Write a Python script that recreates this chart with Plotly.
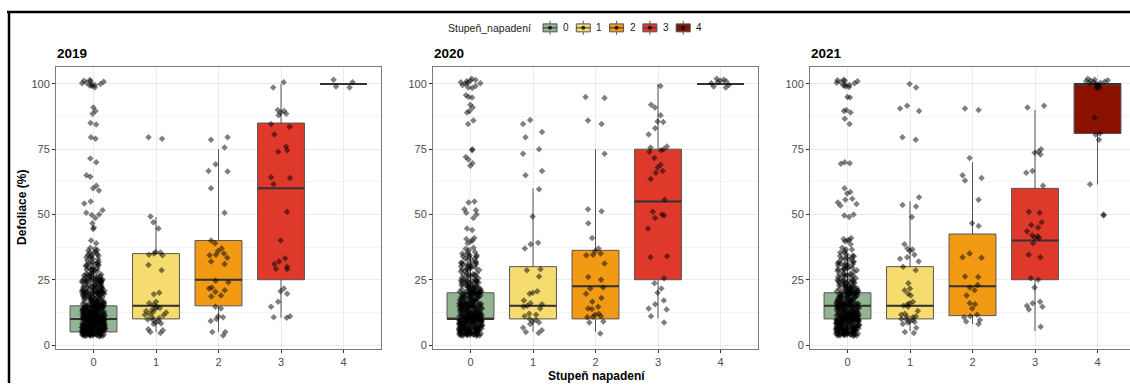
import plotly.graph_objects as go

FONT = "Liberation Sans, Arial, sans-serif"

years = ["2019", "2020", "2021"]
categories = ["0", "1", "2", "3", "4"]
box_colors = ["#93B493", "#F6DC6E", "#F29A13", "#DF392C", "#8A1000"]
legend_title = "Stupeň_napadení"

# ---- box statistics ----
q1_2019 = [5, 10, 15, 25, 100]
med_2019 = [10, 15, 25, 60, 100]
q3_2019 = [15, 35, 40, 85, 100]
low_2019 = [3.5, 5, 5, 10.4, 100]
up_2019 = [30, 49, 75, 100, 100]

q1_2020 = [10, 10, 10, 25, 100]
med_2020 = [10, 15, 22.5, 55, 100]
q3_2020 = [20, 30, 36.25, 75, 100]
low_2020 = [3.5, 5, 5, 10.2, 100]
up_2020 = [35, 60, 75, 100, 100]

q1_2021 = [10, 10, 11.25, 25, 81]
med_2021 = [15, 15, 22.5, 40, 100]
q3_2021 = [20, 30, 42.5, 60, 100]
low_2021 = [3.5, 5.3, 8, 5.3, 61.5]
up_2021 = [35, 55, 70, 90, 100]

# ---- observations (jittered points) ----
pts_2019_0 = [
    101.5, 101.2, 100.8, 100.4, 100.0, 99.6, 99.2, 98.6, 100.2, 99.8, 101.0, 99.4,
    91.0, 89.6, 88.6, 85.0, 84.4, 79.6, 79.0, 71.4, 70.0, 65.0, 64.4, 61.0, 60.0, 59.2,
    55.0, 54.2, 51.6, 50.6, 50.0, 49.8, 48.6, 46.6, 45.0, 44.4, 40.0, 39.0, 37.2, 36.2, 35.6,
    35.2, 34.8, 34.2, 33.6, 32.4, 31.8, 31.2, 30.6, 30.2, 29.6, 29.0, 28.4, 27.8, 27.2, 26.6,
    26.2, 25.8, 25.6, 25.4, 25.2, 25.0, 24.8, 24.6, 24.4, 26.0, 25.9, 25.1, 24.9, 26.4,
    23.8, 23.2, 22.6, 22.1, 21.5, 21.0, 20.6, 20.2, 19.8, 19.4, 18.9, 18.3, 17.8, 17.2, 16.7,
    16.1, 15.6, 15.2, 14.8, 14.3, 13.7, 13.1, 12.6, 12.0, 11.5, 11.1, 10.6, 10.2, 9.8, 9.3,
    8.7, 8.2, 7.6, 7.1, 6.5, 6.0, 5.6, 5.2, 4.8, 4.3, 3.8, 3.4,
    24.2, 22.9, 21.8, 20.4, 20.0, 19.6, 18.6, 17.5, 16.4, 15.4, 15.0, 14.6, 13.4, 12.3, 11.8,
    10.8, 10.4, 10.0, 9.6, 9.0, 8.5, 7.9, 7.3, 6.8, 6.2, 5.8, 5.4, 5.0, 4.6, 4.1, 3.6,
    24.6, 23.5, 21.2, 20.8, 19.2, 18.0, 16.9, 15.8, 14.9, 14.1, 12.9, 11.3, 10.9, 10.5, 10.1,
    9.9, 9.5, 9.1, 8.4, 7.4, 6.7, 5.9, 5.3, 4.9, 4.4, 3.9, 3.5,
    22.3, 20.9, 20.3, 19.9, 19.1, 17.0, 15.9, 15.3, 15.1, 14.7, 13.9, 12.8, 12.2, 11.7, 10.7,
    10.3, 9.7, 9.2, 8.8, 8.0, 7.0, 6.3, 5.7, 5.1, 4.7, 4.2, 3.7,
    25.3, 24.0, 21.7, 20.1, 16.3, 15.5, 14.4, 13.3, 12.4, 11.2, 10.0, 9.4, 8.6, 7.7, 6.6,
    5.5, 5.0, 4.5, 4.0, 3.3,
    14.2, 13.6, 12.7, 11.9, 11.4, 10.7, 10.2, 9.8, 9.0, 8.1, 7.2, 6.4, 5.8, 5.3, 4.9, 4.6,
    4.1, 3.6, 12.5, 11.6, 10.9, 10.1, 9.6, 8.9, 8.3, 7.5, 6.9, 6.1, 5.4, 5.1,
    3.4, 4.2, 4.7, 5.3, 5.5, 6.2, 6.9, 7.3, 8.1, 8.6, 9.1, 9.7, 10.2, 10.6, 11.0, 11.9,
    12.3, 13.0, 13.8, 14.5, 15.0, 15.7, 16.2, 17.4, 18.2, 19.0, 19.7, 20.5, 21.3, 22.0,
    23.6, 24.5, 3.9, 4.5, 5.0, 5.7, 6.3, 7.0, 7.8, 8.3, 9.4, 9.9, 10.4, 10.9, 11.5, 12.6,
    13.5, 14.0, 14.9, 15.4, 16.6, 18.7, 19.5, 20.2, 21.0, 22.7, 24.3, 4.0, 4.9, 5.9, 6.6,
    7.5, 8.4, 9.3, 10.0, 10.8, 12.1, 14.2, 15.1, 17.9, 20.0, 22.2,
    27.0, 28.2, 29.3, 30.4, 31.5, 32.8, 33.9, 34.6, 36.4, 26.9, 28.8, 30.9, 33.2,
    3.5, 3.9, 4.3, 4.6, 5.0, 5.4, 5.8, 6.1, 6.5, 6.9, 7.2, 7.6, 8.0, 8.3, 8.7, 9.0, 9.4,
    9.8, 10.1, 10.5, 10.9, 11.3, 11.6, 12.0, 12.5, 12.9, 13.4, 13.9, 14.3, 14.8, 15.2,
    15.7, 16.3, 16.9, 17.6, 18.4, 19.3, 20.1, 20.9, 21.9, 22.8, 23.9, 24.8,
    3.7, 4.1, 4.5, 4.9, 5.3, 5.7, 6.0, 6.4, 6.8, 7.1, 7.5, 7.9, 8.2, 8.6, 8.9, 9.3, 9.7,
    10.0, 10.4, 10.8, 11.2, 11.5, 11.9, 12.4, 12.8, 13.3, 13.8, 14.2, 14.7, 15.1, 15.6,
    16.2, 16.8, 17.5, 18.3, 19.2, 20.0, 20.8, 21.8, 22.7, 23.8, 24.7,
    4.0, 4.8, 5.5, 6.2, 7.0, 7.7, 8.5, 9.2, 9.9, 10.6, 11.4, 12.2, 13.0, 13.9, 14.9, 15.9,
    17.2, 18.8, 20.4, 22.5, 24.4,
    25.7, 26.5, 27.5, 28.6, 29.8, 30.8, 31.9, 33.0, 34.3, 35.4, 36.8, 27.1, 29.1, 31.3,
]
pts_2019_1 = [79.6, 79.0, 49.2, 47.0, 44.6, 35.6, 35.4, 35.0, 34.6, 34.4, 30.6, 28.6, 20.0,
              19.4, 16.6, 16.0, 15.4, 14.6, 14.2, 14.0, 13.6, 13.0, 12.6, 12.4, 12.0, 11.6,
              11.4, 10.6, 10.2, 9.8, 9.6, 9.2, 8.6, 8.2, 8.0, 6.0, 5.6, 5.0, 4.6]
pts_2019_2 = [79.6, 78.6, 75.6, 69.2, 66.6, 66.4, 60.0, 50.6, 40.0, 39.0, 37.0, 36.0, 35.0,
              34.6, 34.4, 33.4, 32.0, 31.0, 24.6, 24.0, 22.0, 21.6, 21.0, 20.4, 19.0, 18.6,
              14.6, 14.0, 11.0, 10.6, 10.0, 9.2, 5.0, 5.0, 3.6]
pts_2019_3 = [100.6, 98.6, 90.0, 89.6, 89.0, 88.6, 88.0, 84.6, 83.6, 80.6, 76.0, 74.6, 74.0,
              64.2, 64.0, 61.6, 51.0, 40.0, 33.2, 32.0, 31.0, 30.0, 29.2, 29.0, 21.6, 20.6,
              19.6, 16.6, 14.6, 11.0, 10.6, 10.4]
pts_2019_4 = [101.6, 100.6, 99.0, 98.6]

pts_2020_0 = [
    102.0, 101.5, 101.0, 100.6, 100.4, 100.0, 99.2, 98.6, 98.4, 100.2, 99.6, 101.2,
    95.6, 95.0, 94.8, 92.0, 91.0, 89.6, 89.0, 86.0, 84.6,
    75.0, 74.6, 72.0, 71.0, 69.6, 68.6,
    55.0, 54.6, 52.0, 51.6, 50.6, 50.0, 48.6, 44.6, 44.0, 41.0, 40.6, 40.0, 39.6, 39.0,
    37.2, 36.4, 35.6, 35.0, 34.4, 34.0, 33.6, 32.0, 31.6, 31.0, 30.6, 30.2, 30.0, 29.6,
    29.0, 28.4, 27.6, 27.0, 26.4, 26.0, 25.6, 25.2, 25.0, 24.6, 24.2,
    23.9, 23.3, 22.7, 22.2, 21.6, 21.1, 20.7, 20.3, 19.9, 19.5, 19.0, 18.4, 17.9, 17.3,
    16.8, 16.2, 15.7, 15.3, 14.9, 14.4, 13.8, 13.2, 12.7, 12.1, 11.6, 11.2, 10.7, 10.3,
    9.9, 9.4, 8.8, 8.3, 7.7, 7.2, 6.6, 6.1, 5.7, 5.3, 4.9, 4.4, 3.9, 3.5,
    24.3, 23.0, 21.9, 20.5, 20.1, 19.7, 18.7, 17.6, 16.5, 15.5, 15.1, 14.7, 13.5, 12.4,
    11.9, 10.9, 10.5, 10.1, 9.7, 9.1, 8.6, 8.0, 7.4, 6.9, 6.3, 5.9, 5.5, 5.1, 4.7, 4.2,
    24.7, 23.6, 21.3, 20.9, 19.3, 18.1, 17.0, 15.9, 15.0, 14.2, 13.0, 11.4, 11.0, 10.6,
    10.2, 10.0, 9.6, 9.2, 8.5, 7.5, 6.8, 6.0, 5.4, 5.0, 4.5, 4.0, 3.6,
    22.4, 21.0, 20.4, 20.0, 19.2, 17.1, 16.0, 15.4, 15.2, 14.8, 14.0, 12.9, 12.3, 11.8,
    10.8, 10.4, 9.8, 9.3, 8.9, 8.1, 7.1, 6.4, 5.8, 5.2, 4.8, 4.3, 3.8,
    20.2, 19.8, 18.8, 12.1, 11.3, 10.9, 10.5, 10.1, 9.9, 9.5, 8.7, 7.8, 6.7, 5.6,
    3.5, 4.1, 4.6, 5.2, 5.6, 6.1, 6.8, 7.4, 8.0, 8.5, 9.0, 9.6, 10.1, 10.5, 11.1, 11.8,
    12.4, 13.1, 13.7, 14.6, 15.1, 15.8, 16.3, 17.5, 18.3, 19.1, 19.6, 20.6, 21.4, 22.1,
    23.5, 24.4, 3.8, 4.4, 5.1, 5.8, 6.2, 7.1, 7.7, 8.2, 9.3, 10.0, 10.3, 10.8, 11.4, 12.5,
    13.4, 14.1, 14.8, 15.3, 16.7, 18.6, 19.4, 20.3, 21.1, 22.6, 24.1, 4.0, 4.8, 6.0, 6.5,
    7.6, 8.4, 9.2, 9.9, 10.7, 12.0, 14.3, 15.0, 17.8, 19.9, 22.3,
    26.8, 28.1, 29.4, 30.3, 31.4, 32.6, 33.8, 34.7, 26.5, 28.7, 30.8, 33.1,
    3.6, 4.0, 4.4, 4.7, 5.1, 5.5, 5.9, 6.2, 6.6, 7.0, 7.3, 7.7, 8.1, 8.4, 8.8, 9.1, 9.5,
    9.9, 10.2, 10.6, 11.0, 11.4, 11.7, 12.1, 12.6, 13.0, 13.5, 14.0, 14.4, 14.9, 15.3,
    15.8, 16.4, 17.0, 17.7, 18.5, 19.4, 20.2, 21.0, 22.0, 22.9, 24.0, 24.9,
    3.8, 4.2, 4.6, 5.0, 5.4, 5.8, 6.1, 6.5, 6.9, 7.2, 7.6, 8.0, 8.3, 8.7, 9.0, 9.4, 9.8,
    10.1, 10.5, 10.9, 11.3, 11.6, 12.0, 12.5, 12.9, 13.4, 13.9, 14.3, 14.8, 15.2, 15.7,
    16.3, 16.9, 17.6, 18.4, 19.3, 20.1, 20.9, 21.9, 22.8, 23.9, 24.8,
    25.8, 26.6, 27.6, 28.7, 29.9, 30.9, 32.0, 33.1, 34.4, 35.5, 36.9, 27.2, 29.2, 31.4,
]
pts_2020_1 = [86.2, 84.6, 81.6, 79.6, 75.0, 73.2, 66.6, 65.0, 59.6, 49.2, 39.2, 38.6, 37.0,
              29.0, 28.6, 26.2, 20.6, 20.0, 19.6, 17.0, 16.0, 15.6, 15.0, 14.6, 14.0, 12.0,
              11.6, 11.0, 10.0, 9.6, 9.0, 8.6, 8.0, 6.6, 5.6, 5.0, 4.6]
pts_2020_2 = [95.0, 94.6, 86.0, 84.6, 73.2, 52.0, 51.2, 46.6, 41.0, 37.0, 36.0, 35.0, 34.6,
              34.4, 31.2, 26.0, 25.0, 22.0, 21.6, 19.6, 18.0, 16.6, 14.6, 14.0, 13.8, 12.0,
              11.6, 11.0, 10.8, 10.6, 9.0, 8.6, 4.4]
pts_2020_3 = [99.2, 92.0, 91.0, 88.0, 85.6, 85.4, 83.0, 80.6, 76.0, 75.6, 75.0, 74.6, 74.0,
              71.6, 69.0, 68.0, 66.6, 66.0, 63.6, 55.6, 51.0, 50.0, 49.6, 48.6, 44.6, 34.0,
              33.6, 25.6, 23.6, 21.6, 20.0, 17.0, 15.6, 14.0, 13.6, 11.0, 8.6]
pts_2020_4 = [102.0, 101.6, 101.2, 101.0, 100.6, 100.2, 99.6, 99.0, 98.6]

pts_2021_0 = [
    101.6, 101.4, 101.0, 100.6, 100.2, 99.8, 99.4, 99.0, 98.8, 100.4, 99.6, 101.2,
    95.0, 94.8, 90.0, 89.6, 89.0, 86.6, 84.6,
    70.0, 69.6, 69.4, 60.0, 58.6, 58.0, 56.0, 55.6, 54.6, 54.0, 53.4, 50.0, 49.6, 49.0,
    41.0, 40.6, 40.2, 40.0, 39.6, 38.6, 37.2, 36.6, 36.0, 35.4, 34.6, 34.0, 33.4, 32.6,
    32.0, 31.4, 30.8, 30.4, 30.0, 29.6, 29.2, 28.6, 28.0, 27.4, 26.8, 26.4, 26.0, 25.6, 25.2,
    24.8, 24.1, 23.4, 22.8, 22.3, 21.7, 21.2, 20.8, 20.4, 20.0, 19.6, 19.1, 18.5, 18.0,
    17.4, 16.9, 16.3, 15.8, 15.4, 15.0, 14.5, 13.9, 13.3, 12.8, 12.2, 11.7, 11.3, 10.8,
    10.4, 10.0, 9.5, 8.9, 8.4, 7.8, 7.3, 6.7, 6.2, 5.8, 5.4, 5.0, 4.5, 4.0, 3.6,
    24.4, 23.1, 22.0, 20.6, 20.2, 19.8, 18.8, 17.7, 16.6, 15.6, 15.2, 14.8, 13.6, 12.5,
    12.0, 11.0, 10.6, 10.2, 9.8, 9.2, 8.7, 8.1, 7.5, 7.0, 6.4, 6.0, 5.6, 5.2, 4.8, 4.3,
    24.9, 23.7, 21.4, 21.0, 19.4, 18.2, 17.1, 16.0, 15.1, 14.3, 13.1, 11.5, 11.1, 10.7,
    10.3, 10.1, 9.7, 9.3, 8.6, 7.6, 6.9, 6.1, 5.5, 5.1, 4.6, 4.1, 3.7,
    22.5, 21.1, 20.5, 20.1, 19.3, 17.2, 16.1, 15.5, 15.3, 14.9, 14.1, 13.0, 12.4, 11.9,
    10.9, 10.5, 9.9, 9.4, 9.0, 8.2, 7.2, 6.5, 5.9, 5.3, 4.9, 4.4, 3.9,
    20.3, 19.9, 18.9, 16.4, 15.9, 15.1, 14.6, 12.6, 12.1, 11.4, 11.2, 10.4, 9.6, 8.8,
    3.6, 4.3, 4.8, 5.4, 5.7, 6.3, 7.0, 7.4, 8.2, 8.7, 9.2, 9.8, 10.3, 10.7, 11.2, 12.0,
    12.5, 13.2, 13.9, 14.7, 15.2, 15.9, 16.5, 17.6, 18.4, 19.2, 19.8, 20.7, 21.5, 22.2,
    23.7, 24.6, 3.9, 4.6, 5.2, 5.9, 6.4, 7.2, 7.9, 8.4, 9.5, 10.1, 10.5, 11.0, 11.6, 12.7,
    13.6, 14.2, 15.0, 15.6, 16.8, 18.8, 19.5, 20.4, 21.2, 22.8, 24.2, 4.2, 5.0, 6.0, 6.8,
    7.7, 8.5, 9.4, 10.0, 10.9, 12.2, 14.4, 15.3, 18.0, 20.0, 22.4,
    26.7, 28.3, 29.5, 30.6, 31.7, 33.0, 34.1, 26.6, 28.9, 31.1, 33.3,
    3.4, 3.8, 4.2, 4.5, 4.9, 5.3, 5.7, 6.0, 6.4, 6.8, 7.1, 7.5, 7.9, 8.2, 8.6, 8.9, 9.3,
    9.7, 10.0, 10.4, 10.8, 11.2, 11.5, 11.9, 12.4, 12.8, 13.3, 13.8, 14.2, 14.7, 15.1,
    15.6, 16.2, 16.8, 17.5, 18.3, 19.2, 20.0, 20.8, 21.8, 22.7, 23.8, 24.7,
    3.6, 4.0, 4.4, 4.8, 5.2, 5.6, 5.9, 6.3, 6.7, 7.0, 7.4, 7.8, 8.1, 8.5, 8.8, 9.2, 9.6,
    9.9, 10.3, 10.7, 11.1, 11.4, 11.8, 12.3, 12.7, 13.2, 13.7, 14.1, 14.6, 15.0, 15.5,
    16.1, 16.7, 17.4, 18.2, 19.1, 19.9, 20.7, 21.7, 22.6, 23.7, 24.6,
    25.6, 26.4, 27.4, 28.5, 29.7, 30.7, 31.8, 32.9, 34.2, 35.3, 36.7, 27.0, 29.0, 31.2,
]
pts_2021_1 = [100.0, 98.6, 91.6, 90.6, 89.6, 79.6, 78.6, 56.6, 53.6, 53.0, 49.0, 38.6, 37.0,
              36.6, 36.0, 34.6, 33.6, 33.0, 32.0, 30.0, 28.6, 23.6, 21.6, 21.0, 19.6, 19.0,
              16.6, 16.0, 15.6, 15.0, 14.6, 13.0, 12.0, 11.6, 11.0, 10.8, 10.6, 10.0, 9.8,
              9.6, 9.0, 8.8, 8.6, 8.0, 6.6, 5.0, 4.6]
pts_2021_2 = [90.6, 90.0, 71.6, 65.0, 64.0, 63.0, 55.6, 46.6, 45.6, 35.0, 33.6, 33.4, 26.2,
              26.0, 23.0, 22.0, 21.0, 19.0, 16.0, 15.6, 14.0, 11.6, 11.0, 10.6, 9.6, 9.0, 8.0]
pts_2021_3 = [91.6, 91.0, 75.0, 74.0, 73.6, 73.0, 66.6, 66.0, 61.0, 51.0, 50.6, 47.0, 46.0,
              45.0, 43.6, 42.0, 41.6, 41.2, 41.0, 39.0, 34.6, 33.6, 25.6, 25.0, 22.0, 16.6,
              16.0, 15.0, 14.6, 13.6, 7.0]
pts_2021_4 = [102.0, 101.6, 101.4, 101.0, 100.8, 100.6, 100.2, 100.0, 99.6, 99.0, 98.6,
              98.4, 101.2, 100.4, 87.0, 81.0, 80.6, 78.6, 61.6, 50.0, 49.6]

y_ticks = [0, 25, 50, 75, 100]

stats = {
    "2019": (q1_2019, med_2019, q3_2019, low_2019, up_2019),
    "2020": (q1_2020, med_2020, q3_2020, low_2020, up_2020),
    "2021": (q1_2021, med_2021, q3_2021, low_2021, up_2021),
}
points = {
    "2019": [pts_2019_0, pts_2019_1, pts_2019_2, pts_2019_3, pts_2019_4],
    "2020": [pts_2020_0, pts_2020_1, pts_2020_2, pts_2020_3, pts_2020_4],
    "2021": [pts_2021_0, pts_2021_1, pts_2021_2, pts_2021_3, pts_2021_4],
}

W, H = 1130, 385
BOX_W = 0.75
x_domains = [[56 / W, 381 / W], [433 / W, 758 / W], [810 / W, 1.0]]
y_domain = [34 / H, 318 / H]
px_per_unit = 325 / 5.2
x_ranges = [[-0.6, 4.6], [-0.6, 4.6], [-0.6, -0.6 + (W - 810) / px_per_unit]]
BANDS = [(-10, 25), (25, 50), (50, 75), (75, 200)]
LINE_GREY = "#555555"

fig = go.Figure()
for pi, yr in enumerate(years):
    xa = "x" if pi == 0 else f"x{pi + 1}"
    ya = "y" if pi == 0 else f"y{pi + 1}"
    q1, med, q3, lo, up = stats[yr]
    for ci, cat in enumerate(categories):
        fig.add_trace(go.Box(
            x=[ci], q1=[q1[ci]], median=[med[ci]], q3=[q3[ci]],
            lowerfence=[lo[ci]], upperfence=[up[ci]],
            width=BOX_W, fillcolor=box_colors[ci],
            line=dict(color=LINE_GREY, width=1), whiskerwidth=0,
            boxpoints=False, name=cat, legendgroup=cat,
            showlegend=False, xaxis=xa, yaxis=ya, hoverinfo="skip",
        ))
        # thicker median line
        fig.add_trace(go.Box(
            x=[ci], q1=[med[ci]], median=[med[ci]], q3=[med[ci]],
            lowerfence=[med[ci]], upperfence=[med[ci]],
            width=BOX_W, fillcolor="rgba(0,0,0,0)",
            line=dict(color="#333333", width=2), whiskerwidth=0,
            boxpoints=False, showlegend=False, xaxis=xa, yaxis=ya, hoverinfo="skip",
        ))
    for ci, cat in enumerate(categories):
        vals = points[yr][ci]
        for b_lo, b_hi in BANDS:
            sub = [v for v in vals if b_lo <= v < b_hi]
            if not sub:
                continue
            fig.add_trace(go.Box(
                x=[ci] * len(sub), y=sub, orientation="v",
                boxpoints="all", jitter=0.5, pointpos=0, width=BOX_W,
                fillcolor="rgba(0,0,0,0)", line=dict(width=0, color="rgba(0,0,0,0)"),
                marker=dict(symbol="diamond", size=5, color="rgba(0,0,0,0.5)",
                            line=dict(width=0)),
                showlegend=False, xaxis=xa, yaxis=ya, hoverinfo="skip",
            ))

axis_common = dict(
    showgrid=True, gridcolor="#EBEBEB", gridwidth=1, zeroline=False,
    showline=True, linecolor="#7A7A7A", linewidth=1,
    ticks="outside", ticklen=3, tickcolor="#333333", tickwidth=1,
    tickfont=dict(family=FONT, size=11, color="#4D4D4D"),
)
layout_axes = {}
for pi in range(3):
    sx = "" if pi == 0 else str(pi + 1)
    layout_axes[f"xaxis{sx}"] = dict(
        axis_common, domain=x_domains[pi], range=x_ranges[pi],
        tickmode="array", tickvals=list(range(len(categories))), ticktext=categories,
        anchor=f"y{sx}", mirror=True,
    )
    layout_axes[f"yaxis{sx}"] = dict(
        axis_common, domain=y_domain, range=[-1.6, 106.6],
        tickmode="array", tickvals=y_ticks,
        minor=dict(tickvals=[12.5, 37.5, 62.5, 87.5], showgrid=True,
                   gridcolor="#F4F4F4", gridwidth=1, ticks=""),
        anchor=f"x{sx}", mirror=(pi < 2),
    )

annotations = []
for pi, yr in enumerate(years):
    annotations.append(dict(
        text=f"<b>{yr}</b>", xref="paper", yref="paper",
        x=x_domains[pi][0] - 1 / W, y=1 - 54 / H, xanchor="left", yanchor="middle",
        showarrow=False, font=dict(family=FONT, size=13.5, color="black"),
    ))
annotations.append(dict(
    text="<b>Defoliace (%)</b>", xref="paper", yref="paper",
    x=22 / W, y=1 - 209 / H, xanchor="center", yanchor="middle", textangle=-90,
    showarrow=False, font=dict(family=FONT, size=12, color="black"),
))
annotations.append(dict(
    text="<b>Stupeň napadení</b>", xref="paper", yref="paper",
    x=596 / W, y=1 - 378 / H, xanchor="center", yanchor="middle",
    showarrow=False, font=dict(family=FONT, size=12, color="black"),
))

shapes = [
    dict(type="line", xref="paper", yref="paper", x0=7 / W, x1=1.0,
         y0=1 - 12 / H, y1=1 - 12 / H, line=dict(color="black", width=2.5)),
    dict(type="line", xref="paper", yref="paper", x0=9 / W, x1=9 / W,
         y0=0, y1=1 - 12 / H, line=dict(color="black", width=2.5)),
]

# ---- legend (drawn as keys in pixel positions of the top strip) ----
LEG_Y = 28          # centre line, px from top
KEY0 = 543          # left edge of first key, px
KEY_STEP = 33.3     # px between keys
KEY_W, KEY_H = 14, 8


def px_x(v):
    return v / W


def px_y(v):
    return 1 - v / H


annotations.append(dict(
    text=legend_title, xref="paper", yref="paper",
    x=px_x(KEY0 - 10), y=px_y(LEG_Y), xanchor="right", yanchor="middle",
    showarrow=False, font=dict(family=FONT, size=10.5, color="#1A1A1A"),
))
for ci, cat in enumerate(categories):
    kx0 = KEY0 + ci * KEY_STEP
    kxc = kx0 + KEY_W / 2
    shapes.append(dict(type="line", xref="paper", yref="paper",
                       x0=px_x(kxc), x1=px_x(kxc), y0=px_y(LEG_Y - 7), y1=px_y(LEG_Y + 7),
                       line=dict(color=LINE_GREY, width=1)))
    shapes.append(dict(type="rect", xref="paper", yref="paper",
                       x0=px_x(kx0), x1=px_x(kx0 + KEY_W),
                       y0=px_y(LEG_Y - KEY_H / 2), y1=px_y(LEG_Y + KEY_H / 2),
                       fillcolor=box_colors[ci], line=dict(color=LINE_GREY, width=1)))
    shapes.append(dict(type="line", xref="paper", yref="paper",
                       x0=px_x(kx0), x1=px_x(kx0 + KEY_W), y0=px_y(LEG_Y), y1=px_y(LEG_Y),
                       line=dict(color="#333333", width=1)))
    shapes.append(dict(type="circle", xref="paper", yref="paper",
                       x0=px_x(kxc - 2), x1=px_x(kxc + 2),
                       y0=px_y(LEG_Y - 2), y1=px_y(LEG_Y + 2),
                       fillcolor="rgba(0,0,0,0.75)", line=dict(width=0)))
    annotations.append(dict(
        text=cat, xref="paper", yref="paper",
        x=px_x(kx0 + 23), y=px_y(LEG_Y), xanchor="center", yanchor="middle",
        showarrow=False, font=dict(family=FONT, size=10, color="#1A1A1A"),
    ))

fig.update_layout(
    width=W, height=H, autosize=False,
    margin=dict(l=0, r=0, t=0, b=0),
    paper_bgcolor="white", plot_bgcolor="white",
    boxmode="overlay",
    font=dict(family=FONT, size=11, color="#333333"),
    showlegend=False,
    annotations=annotations,
    shapes=shapes,
    **layout_axes,
)

fig.write_html(
    "out.html",
    config={"displayModeBar": False},
    post_script="document.body.style.margin='0px';document.body.style.overflow='hidden';",
)
